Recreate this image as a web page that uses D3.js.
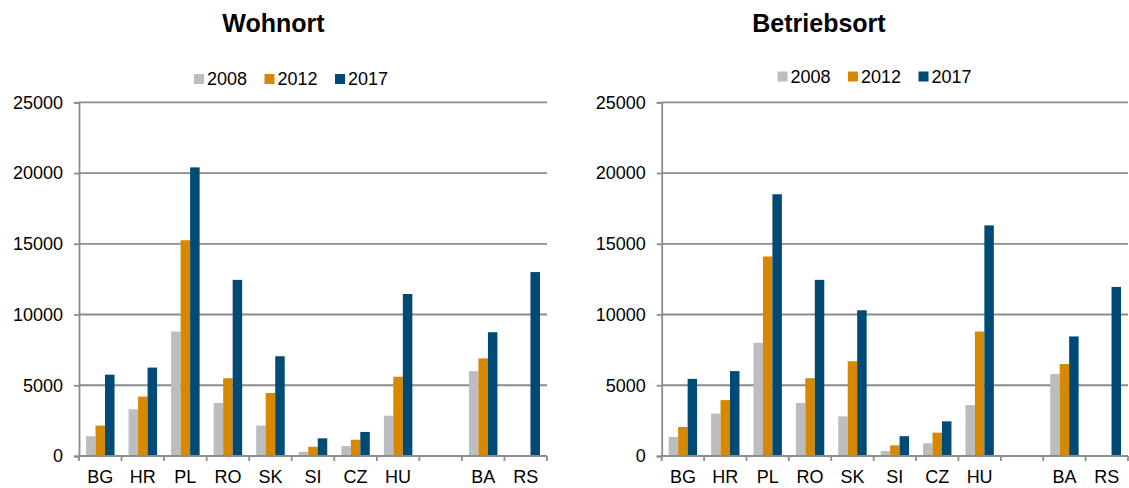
<!DOCTYPE html>
<html>
<head>
<meta charset="utf-8">
<script src="https://cdn.jsdelivr.net/npm/d3@7"></script>
<style>
  html, body { margin: 0; padding: 0; background: #fff; }
  svg { display: block; font-family: "Liberation Sans", Arial, sans-serif; }
</style>
</head>
<body>
<svg id="chart" width="1129" height="488"></svg>
<script>
// ---- data ----
const categories = ["BG", "HR", "PL", "RO", "SK", "SI", "CZ", "HU", "", "BA", "RS"];
const years = ["2008", "2012", "2017"];
const yTicks = [0, 5000, 10000, 15000, 20000, 25000];

const wohnort2008 = [1400, 3300, 8800, 3750, 2150, 300, 700, 2850, null, 6000, null];
const wohnort2012 = [2150, 4200, 15250, 5500, 4450, 650, 1150, 5600, null, 6900, null];
const wohnort2017 = [5750, 6250, 20400, 12450, 7050, 1250, 1700, 11450, null, 8750, 13000];

const betrieb2008 = [1350, 3000, 8000, 3750, 2800, 350, 900, 3600, null, 5800, null];
const betrieb2012 = [2050, 3950, 14100, 5500, 6700, 750, 1650, 8800, null, 6500, null];
const betrieb2017 = [5450, 6000, 18500, 12450, 10300, 1400, 2450, 16300, null, 8450, 11950];

const colors = ["#bbbdc0", "#d68800", "#004a76"];

const svg = d3.select("#chart");
const axisColor = "#8c8c8c";

function drawPanel(opt) {
  const g = svg.append("g");
  const x0 = d3.scaleBand().domain(d3.range(categories.length))
    .range([opt.left, opt.right]).paddingInner(0.33).paddingOuter(0.165);
  const x1 = d3.scaleBand().domain(years).range([0, x0.bandwidth()]);
  const y = d3.scaleLinear().domain([0, 25000]).range([456, 102.3]);

  // gridlines
  g.selectAll("line.grid").data(yTicks.filter(d => d > 0)).enter().append("line")
    .attr("x1", opt.left).attr("x2", opt.right)
    .attr("y1", d => y(d)).attr("y2", d => y(d))
    .attr("stroke", axisColor).attr("stroke-width", 1.8);

  // y axis
  const yAxis = d3.axisLeft(y).tickValues(yTicks).tickSize(5).tickPadding(11).tickFormat(d3.format("d"));
  const ya = g.append("g").attr("transform", `translate(${opt.left},0)`).call(yAxis);
  ya.select(".domain").attr("stroke", axisColor).attr("stroke-width", 1.8);
  ya.selectAll(".tick line").attr("stroke", axisColor).attr("stroke-width", 1.8);
  ya.selectAll(".tick text").attr("font-size", 18).attr("fill", "#000")
    .attr("font-family", "'Liberation Sans', Arial, sans-serif");

  // bars
  const series = opt.series;
  categories.forEach((c, i) => {
    years.forEach((yr, k) => {
      const v = series[k][i];
      if (v == null) return;
      g.append("rect")
        .attr("x", x0(i) + x1(yr))
        .attr("y", y(v))
        .attr("width", x1.bandwidth())
        .attr("height", y(0) - y(v))
        .attr("fill", colors[k]);
    });
  });

  // x axis
  const xs = d3.scaleLinear().domain([0, categories.length]).range([opt.left, opt.right]);
  g.append("line").attr("x1", opt.left).attr("x2", opt.right)
    .attr("y1", y(0)).attr("y2", y(0))
    .attr("stroke", axisColor).attr("stroke-width", 1.8);
  g.selectAll("line.xt").data(d3.range(categories.length + 1)).enter().append("line")
    .attr("x1", d => xs(d)).attr("x2", d => xs(d))
    .attr("y1", y(0)).attr("y2", y(0) + 5)
    .attr("stroke", axisColor).attr("stroke-width", 1.8);
  g.selectAll("text.xl").data(categories).enter().append("text")
    .attr("x", (d, i) => x0(i) + x0.bandwidth() / 2)
    .attr("y", 483)
    .attr("text-anchor", "middle")
    .attr("font-size", 18).attr("fill", "#000")
    .text(d => d);

  // title
  g.append("text").attr("x", opt.titleX).attr("y", 31.5)
    .attr("text-anchor", "middle").attr("font-size", 25).attr("font-weight", "bold")
    .attr("fill", "#000").text(opt.title);

  // legend
  const lg = g.append("g").attr("transform", `translate(${opt.legendX},${opt.legendY})`);
  years.forEach((yr, k) => {
    const it = lg.append("g").attr("transform", `translate(${k * 70.5},0)`);
    it.append("rect").attr("x", 0).attr("y", -11).attr("width", 10).attr("height", 10).attr("fill", colors[k]);
    it.append("text").attr("x", 13).attr("y", 0).attr("font-size", 18).attr("fill", "#000").text(yr);
  });
}

drawPanel({
  left: 79, right: 547, title: "Wohnort", titleX: 273.5,
  legendX: 194, legendY: 85,
  series: [wohnort2008, wohnort2012, wohnort2017]
});
drawPanel({
  left: 661.7, right: 1128, title: "Betriebsort", titleX: 819,
  legendX: 777.5, legendY: 82.5,
  series: [betrieb2008, betrieb2012, betrieb2017]
});
</script>
</body>
</html>
